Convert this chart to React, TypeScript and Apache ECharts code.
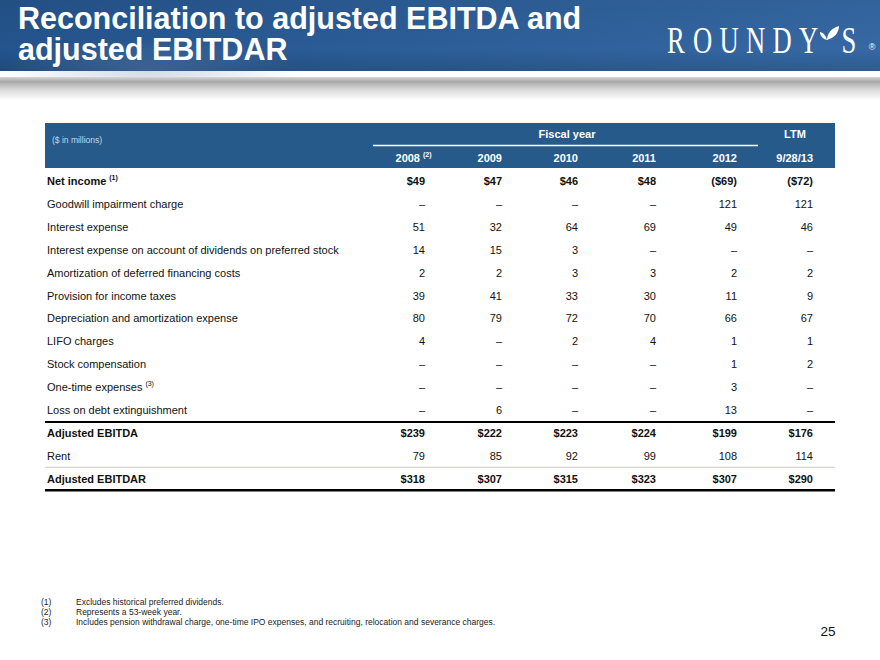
import React, { useEffect, useRef } from "react";
import * as echarts from "echarts";

// ---------- content ----------
const titleLines = ["Reconciliation to adjusted EBITDA and", "adjusted EBITDAR"];
const logoLetters = ["R", "O", "U", "N", "D", "Y"];
const logoTail = "S";
const unitNote = "($ in millions)";
const groupHeader = "Fiscal year";
const ltmHeader = "LTM";
const columns = ["2008", "2009", "2010", "2011", "2012", "9/28/13"];
const columnNotes = ["(2)", "", "", "", "", ""];

const rowLabels = [
  "Net income",
  "Goodwill impairment charge",
  "Interest expense",
  "Interest expense on account of dividends on preferred stock",
  "Amortization of deferred financing costs",
  "Provision for income taxes",
  "Depreciation and amortization expense",
  "LIFO charges",
  "Stock compensation",
  "One-time expenses",
  "Loss on debt extinguishment",
  "Adjusted EBITDA",
  "Rent",
  "Adjusted EBITDAR",
];
const rowNotes = ["(1)", "", "", "", "", "", "", "", "", "(3)", "", "", "", ""];

const netIncome = [49, 47, 46, 48, -69, -72];
const goodwillImpairment = [null, null, null, null, 121, 121];
const interestExpense = [51, 32, 64, 69, 49, 46];
const preferredDividendInterest = [14, 15, 3, null, null, null];
const financingCostAmortization = [2, 2, 3, 3, 2, 2];
const incomeTaxes = [39, 41, 33, 30, 11, 9];
const depreciation = [80, 79, 72, 70, 66, 67];
const lifoCharges = [4, null, 2, 4, 1, 1];
const stockCompensation = [null, null, null, null, 1, 2];
const oneTimeExpenses = [null, null, null, null, 3, null];
const debtExtinguishmentLoss = [null, 6, null, null, 13, null];
const adjustedEbitda = [239, 222, 223, 224, 199, 176];
const rent = [79, 85, 92, 99, 108, 114];
const adjustedEbitdar = [318, 307, 315, 323, 307, 290];

const rowValues = [
  netIncome,
  goodwillImpairment,
  interestExpense,
  preferredDividendInterest,
  financingCostAmortization,
  incomeTaxes,
  depreciation,
  lifoCharges,
  stockCompensation,
  oneTimeExpenses,
  debtExtinguishmentLoss,
  adjustedEbitda,
  rent,
  adjustedEbitdar,
];

const footnoteMarks = ["(1)", "(2)", "(3)"];
const footnotes = [
  "Excludes historical preferred dividends.",
  "Represents a 53-week year.",
  "Includes pension withdrawal charge, one-time IPO expenses, and recruiting, relocation and severance charges.",
];
const pageNumber = "25";

// ---------- layout / style ----------
const SANS = "'Liberation Sans', Arial, Helvetica, sans-serif";
const SERIF = "'Liberation Serif', 'Times New Roman', serif";
const BOLD_ROWS = [0, 11, 13];
const TABLE_LEFT = 45;
const TABLE_RIGHT = 835;
const COL_RIGHT = [420, 502, 578, 656, 737, 813];
const ROW_Y0 = 181;
const ROW_STEP = 22.9;
const HEADER_BLUE = "#265a8b";

let measureCtx: CanvasRenderingContext2D | null = null;
function textWidth(text: string, font: string): number {
  if (!measureCtx) {
    const c = document.createElement("canvas");
    measureCtx = c.getContext("2d");
  }
  if (!measureCtx) return text.length * 6;
  measureCtx.font = font;
  return measureCtx.measureText(text).width;
}

function fmt(v: number | null, dollar: boolean): string {
  if (v === null || v === undefined) return "\u2013";
  const a = Math.abs(v);
  const s = dollar ? "$" + a : String(a);
  return v < 0 ? "(" + s + ")" : s;
}

let leafRegistered = false;
function registerLeaf() {
  if (leafRegistered) return;
  leafRegistered = true;
  const d =
    "M0,14 C0,8 4,2 12,0 C12,7 7,12 0,14 Z M0,14 C-1,10 -3,7 -7,6 C-7,10 -4,13 0,14 Z";
  echarts.graphic.registerShape("leaf", echarts.graphic.extendPath(d, {}) as any);
}

function txt(
  text: string,
  x: number,
  y: number,
  opts: {
    size?: number;
    weight?: string;
    color?: string;
    align?: string;
    family?: string;
    vAlign?: string;
  } = {}
) {
  return {
    type: "text",
    x,
    y,
    silent: true,
    style: {
      text,
      fontSize: opts.size ?? 11,
      fontWeight: opts.weight ?? "normal",
      fontFamily: opts.family ?? SANS,
      fill: opts.color ?? "#111",
      align: opts.align ?? "left",
      verticalAlign: opts.vAlign ?? "middle",
    },
  };
}

function buildGraphic(): any[] {
  const els: any[] = [];

  // title band
  els.push({
    type: "rect",
    shape: { x: 0, y: 0, width: 880, height: 71 },
    silent: true,
    style: {
      fill: new echarts.graphic.LinearGradient(0, 0, 1, 0, [
        { offset: 0, color: "#24548c" },
        { offset: 0.45, color: "#2c5d97" },
        { offset: 1, color: "#3668a3" },
      ]),
    },
  });
  els.push({
    type: "ellipse",
    shape: { cx: 150, cy: 70, rx: 150, ry: 30 },
    silent: true,
    style: {
      fill: new echarts.graphic.RadialGradient(0.5, 0.5, 0.5, [
        { offset: 0, color: "rgba(120,150,190,0.35)" },
        { offset: 1, color: "rgba(120,150,190,0)" },
      ]),
    },
  });
  els.push({
    type: "rect",
    shape: { x: 0, y: 0, width: 880, height: 71 },
    silent: true,
    style: {
      fill: new echarts.graphic.LinearGradient(0, 0, 0, 1, [
        { offset: 0, color: "rgba(0,0,0,0.05)" },
        { offset: 0.7, color: "rgba(0,0,0,0)" },
        { offset: 1, color: "rgba(0,0,0,0.12)" },
      ]),
    },
  });
  // shadow under band
  els.push({
    type: "rect",
    shape: { x: 0, y: 77, width: 880, height: 23 },
    silent: true,
    style: {
      fill: new echarts.graphic.LinearGradient(0, 0, 0, 1, [
        { offset: 0, color: "#d6d6d6" },
        { offset: 0.2, color: "#a9a9a9" },
        { offset: 0.55, color: "#d9d9d9" },
        { offset: 1, color: "#ffffff" },
      ]),
    },
  });

  // title
  titleLines.forEach((line, i) => {
    els.push(txt(line, 18, 18 + i * 31, { size: 30.5, weight: "bold", color: "#ffffff" }));
  });

  // logo
  const logoStart = 676;
  const logoPitch = 26.5;
  logoLetters.forEach((ch, i) => {
    els.push({
      ...txt(ch, logoStart + i * logoPitch, 40, { size: 37, family: SERIF, color: "#ffffff", align: "center" }),
      scaleX: 0.72,
    });
  });
  els.push({
    type: "leaf",
    x: 827,
    y: 26,
    silent: true,
    style: { fill: "#ffffff" },
  });
  els.push({
    ...txt(logoTail, 849, 40, { size: 37, family: SERIF, color: "#ffffff", align: "center" }),
    scaleX: 0.72,
  });
  els.push(txt("\u00AE", 872, 47, { size: 9, family: SANS, color: "#ffffff", align: "center" }));

  // table header
  els.push({
    type: "rect",
    shape: { x: TABLE_LEFT, y: 123, width: TABLE_RIGHT - TABLE_LEFT, height: 45 },
    silent: true,
    style: { fill: HEADER_BLUE },
  });
  els.push(txt(unitNote, 52, 140, { size: 8.5, color: "#c9d5e4" }));
  els.push(txt(groupHeader, 567, 134, { size: 11, weight: "bold", color: "#ffffff", align: "center" }));
  els.push(txt(ltmHeader, 795, 134, { size: 11, weight: "bold", color: "#ffffff", align: "center" }));
  els.push({
    type: "line",
    shape: { x1: 373, y1: 145.5, x2: 758, y2: 145.5 },
    silent: true,
    style: { stroke: "#ffffff", lineWidth: 1.5 },
  });
  columns.forEach((c, i) => {
    els.push(txt(c, COL_RIGHT[i], 158, { size: 11, weight: "bold", color: "#ffffff", align: "right" }));
    if (columnNotes[i]) {
      els.push(txt(columnNotes[i], COL_RIGHT[i] + 3, 154, { size: 7, weight: "bold", color: "#ffffff" }));
    }
  });

  // rows
  rowLabels.forEach((label, r) => {
    const y = ROW_Y0 + r * ROW_STEP;
    const bold = BOLD_ROWS.indexOf(r) >= 0;
    const weight = bold ? "bold" : "normal";
    els.push(txt(label, 47, y, { size: 11, weight, color: "#111" }));
    if (rowNotes[r]) {
      const w = textWidth(label, `${weight} 11px ${SANS}`);
      els.push(txt(rowNotes[r], 47 + w + 3, y - 4, { size: 7, weight, color: "#111" }));
    }
    rowValues[r].forEach((v, c) => {
      els.push(
        txt(fmt(v, bold), COL_RIGHT[c] + (c === 0 ? 5 : 0), y, {
          size: 11,
          weight,
          color: "#111",
          align: "right",
        })
      );
    });
  });

  // rules
  const yEbitdaRule = ROW_Y0 + 10.5 * ROW_STEP + 0.5;
  const yRentRule = ROW_Y0 + 12.5 * ROW_STEP;
  const yBottomRule = ROW_Y0 + 13.5 * ROW_STEP;
  els.push({
    type: "line",
    shape: { x1: TABLE_LEFT, y1: yEbitdaRule, x2: TABLE_RIGHT, y2: yEbitdaRule },
    silent: true,
    style: { stroke: "#000", lineWidth: 2 },
  });
  els.push({
    type: "line",
    shape: { x1: TABLE_LEFT, y1: yRentRule, x2: TABLE_RIGHT, y2: yRentRule },
    silent: true,
    style: { stroke: "#c9c5c1", lineWidth: 1.2 },
  });
  els.push({
    type: "line",
    shape: { x1: TABLE_LEFT, y1: yBottomRule, x2: TABLE_RIGHT, y2: yBottomRule },
    silent: true,
    style: { stroke: "#000", lineWidth: 2.5 },
  });

  // footnotes
  footnoteMarks.forEach((m, i) => {
    const y = 602 + i * 10;
    els.push(txt(m, 41, y, { size: 8.5, color: "#222" }));
    els.push(txt(footnotes[i], 76, y, { size: 8.5, color: "#222" }));
  });

  els.push(txt(pageNumber, 828, 631, { size: 13.5, color: "#111", align: "center" }));

  return els;
}

export default function App() {
  const ref = useRef<HTMLDivElement>(null);
  useEffect(() => {
    if (!ref.current) return;
    registerLeaf();
    const chart = echarts.init(ref.current, null, { renderer: "svg" });
    chart.setOption({
      animation: false,
      backgroundColor: "#ffffff",
      graphic: { elements: buildGraphic() },
    });
    return () => chart.dispose();
  }, []);
  return (
    <div
      ref={ref}
      style={{ position: "absolute", left: 0, top: 0, width: 880, height: 660, background: "#fff" }}
    />
  );
}
